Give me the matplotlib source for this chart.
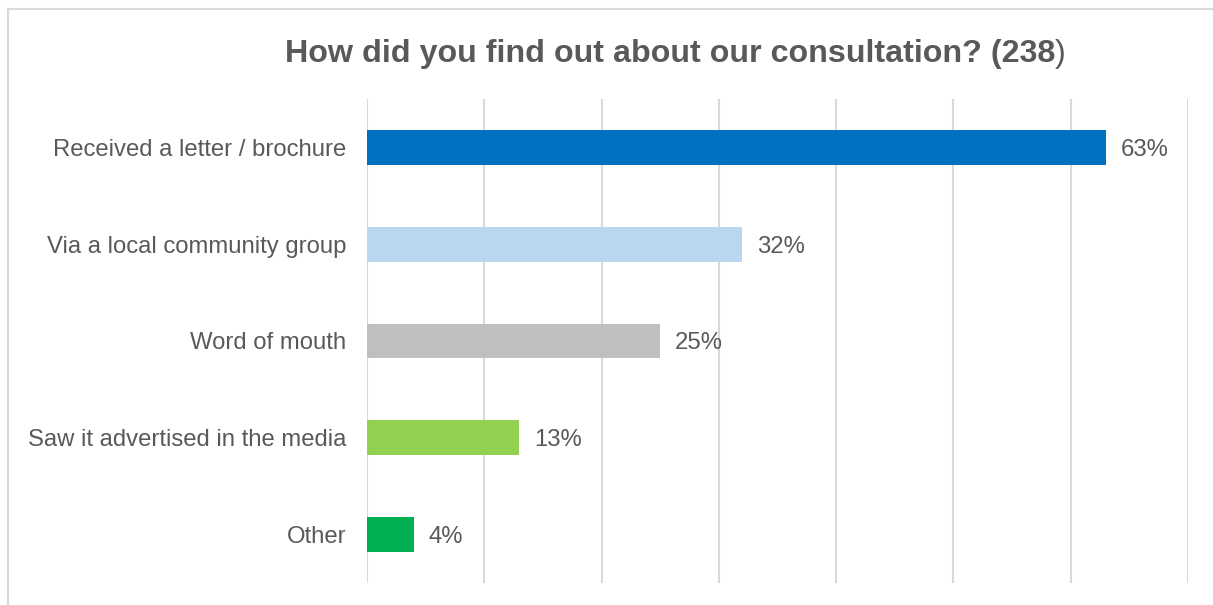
import matplotlib

matplotlib.use("Agg")

import matplotlib.pyplot as plt
from matplotlib.patches import Rectangle

categories = [
    "Received a letter / brochure",
    "Via a local community group",
    "Word of mouth",
    "Saw it advertised in the media",
    "Other",
]
shares = [63, 32, 25, 13, 4]
bar_colors = ["#0070C0", "#B9D7F1", "#BFBFBF", "#92D050", "#00B050"]
respondents = 238

TEXT = "#595959"
GRID = "#D9D9D9"

plt.rcParams["font.family"] = ["Liberation Sans", "DejaVu Sans"]

fig = plt.figure(figsize=(12.13, 6.05), dpi=100)
W, H = 1213, 605

# outer chart frame
fig.patches.append(
    Rectangle((8 / W, -0.1), 1.2, 1 - 9 / H + 0.1, transform=fig.transFigure,
              fill=False, edgecolor="#D9D9D9", linewidth=1.5)
)

ax = fig.add_axes([367 / W, 1 - 583 / H, (1188 - 367) / W, (583 - 99) / H])
y = list(range(len(categories)))
ax.barh(y, shares, height=0.36, color=bar_colors, zorder=3)
ax.set_xlim(0, 70)
ax.set_ylim(len(categories) - 0.5, -0.5)
ax.set_xticks(range(0, 71, 10))
ax.xaxis.grid(True, color=GRID, linewidth=1.5)
ax.set_axisbelow(True)
ax.tick_params(axis="x", length=0, labelbottom=False)
ax.tick_params(axis="y", length=0, pad=15, labelsize=17.2, labelcolor=TEXT)
ax.set_yticks(y)
ax.set_yticklabels(categories, va="center_baseline")
for s in ax.spines.values():
    s.set_visible(False)

for yi, v in zip(y, shares):
    ax.text(v + 1.25, yi, f"{v}%", va="center_baseline", ha="left",
            fontsize=17.2, color=TEXT)

# title: bold text with a regular closing bracket
fig.canvas.draw()
renderer = fig.canvas.get_renderer()
bold = fig.text(0, 1 - 54 / H, f"How did you find out about our consultation? ({respondents}",
                fontsize=23.2, fontweight="bold", color=TEXT, va="center", ha="left")
close = fig.text(0, 1 - 54 / H, ")", fontsize=23.2, color=TEXT, va="center", ha="left")
wb = bold.get_window_extent(renderer).width
wc = close.get_window_extent(renderer).width
x0 = 675.5 - (wb + wc) / 2
bold.set_x(x0 / W)
close.set_x((x0 + wb) / W)

fig.savefig("out.png", dpi=100)
